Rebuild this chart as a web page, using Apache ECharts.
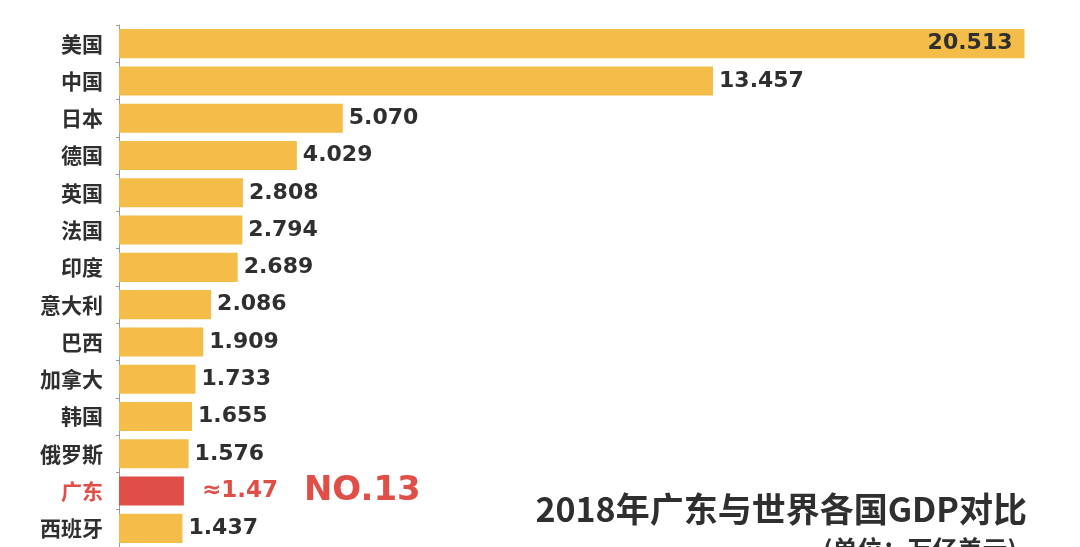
<!DOCTYPE html>
<html><head><meta charset="utf-8">
<script src="https://cdn.jsdelivr.net/npm/echarts@6/dist/echarts.min.js"></script>
<style>html,body{margin:0;padding:0;background:#fff}#c{width:1080px;height:547px}</style>
</head><body><div id="c"></div>
<script>
const categories = ['美国','中国','日本','德国','英国','法国','印度','意大利','巴西','加拿大','韩国','俄罗斯','广东','西班牙'];
const values = [20.513,13.457,5.070,4.029,2.808,2.794,2.689,2.086,1.909,1.733,1.655,1.576,1.47,1.437];
const highlight = '广东';
const rankText = 'NO.13';
const titleText = '2018年广东与世界各国GDP对比';
const unitText = '(单位：万亿美元)';

const YELLOW = '#F4BD4A', RED = '#E04E48', DARK = '#2f2f2f';
const labelFont = 'DejaVu Sans';

const data = values.map((v, i) => {
  const isH = categories[i] === highlight;
  const item = { value: v, itemStyle: { color: isH ? RED : YELLOW } };
  if (i === 0) {
    item.label = { position: 'insideRight', offset: [-6, 0] };
  }
  if (isH) {
    item.label = {
      formatter: '{a|≈' + v.toFixed(2) + '}{b|' + rankText + '}',
      rich: {
        a: { color: RED, fontSize: 23, fontWeight: 'bold', fontFamily: labelFont, padding: [0, 0, 0, 12] },
        b: { color: RED, fontSize: 34, fontWeight: 'bold', fontFamily: labelFont, padding: [0, 0, 0, 26] }
      }
    };
  }
  return item;
});

const chart = echarts.init(document.getElementById('c'));
chart.setOption({
  animation: false,
  title: [
    { text: titleText, right: 48, top: 487, textStyle: { fontSize: 34, fontWeight: 'bold', color: DARK, fontFamily: 'Noto Sans CJK SC' } },
    { text: unitText, right: 58, top: 532, textStyle: { fontSize: 25, fontWeight: 'bold', color: DARK, fontFamily: 'Noto Sans CJK SC' } }
  ],
  grid: { left: 119, right: 34, top: 25, bottom: 0, containLabel: false },
  xAxis: { type: 'value', min: 0, max: 21, show: false },
  yAxis: {
    type: 'category', data: categories, inverse: true,
    axisLine: { show: true, lineStyle: { color: '#9a9a9a', width: 1 } },
    axisTick: { show: true, length: 3, lineStyle: { color: '#9a9a9a' } },
    axisLabel: {
      margin: 16, fontSize: 21, fontWeight: 'bold', fontFamily: 'Noto Sans CJK SC',
      color: (v) => v === highlight ? RED : DARK
    }
  },
  series: [{
    type: 'bar', data: data, barCategoryGap: '22%',
    label: {
      show: true, position: 'right', distance: 6,
      fontSize: 22, fontWeight: 'bold', fontFamily: labelFont, color: DARK,
      formatter: (p) => p.value.toFixed(3)
    }
  }]
});
</script></body></html>
